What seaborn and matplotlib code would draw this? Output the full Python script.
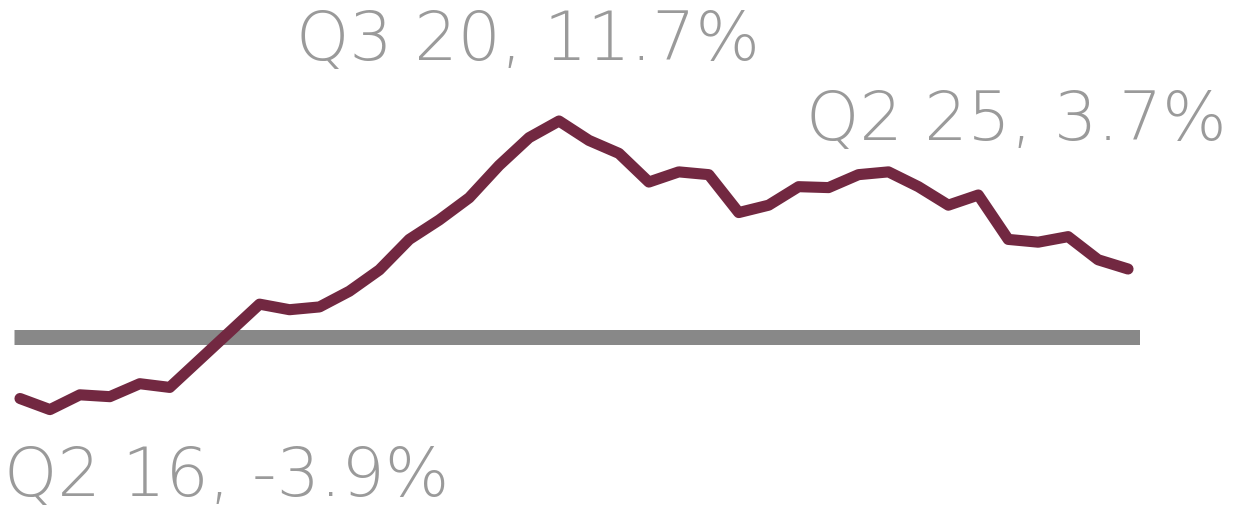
import matplotlib
matplotlib.use('Agg')
import matplotlib.pyplot as plt
import seaborn as sns
import pandas as pd

quarters = ['Q1 16', 'Q2 16', 'Q3 16', 'Q4 16',
            'Q1 17', 'Q2 17', 'Q3 17', 'Q4 17',
            'Q1 18', 'Q2 18', 'Q3 18', 'Q4 18',
            'Q1 19', 'Q2 19', 'Q3 19', 'Q4 19',
            'Q1 20', 'Q2 20', 'Q3 20', 'Q4 20',
            'Q1 21', 'Q2 21', 'Q3 21', 'Q4 21',
            'Q1 22', 'Q2 22', 'Q3 22', 'Q4 22',
            'Q1 23', 'Q2 23', 'Q3 23', 'Q4 23',
            'Q1 24', 'Q2 24', 'Q3 24', 'Q4 24',
            'Q1 25', 'Q2 25']
growth = [-3.3, -3.9, -3.1, -3.2,
          -2.5, -2.7, -1.2, 0.3,
          1.8, 1.5, 1.65, 2.5,
          3.65, 5.3, 6.35, 7.55,
          9.3, 10.8, 11.7, 10.65,
          9.95, 8.4, 8.95, 8.8,
          6.75, 7.15, 8.15, 8.1,
          8.8, 8.95, 8.15, 7.15,
          7.7, 5.3, 5.15, 5.45,
          4.2, 3.7]

labels = ['Q2 16, -3.9%', 'Q3 20, 11.7%', 'Q2 25, 3.7%']

df = pd.DataFrame({'idx': range(len(quarters)), 'q': quarters, 'v': growth})

sns.set_style('white')
plt.rcParams['font.family'] = ['DejaVu Sans']

fig = plt.figure(figsize=(12.58, 5.11), dpi=100)
ax = fig.add_axes([14 / 1258, 0, 1126 / 1258, 1])

ax.axhline(0, color='#888888', lw=10.8, zorder=1, solid_capstyle='butt')
sns.lineplot(data=df, x='idx', y='v', ax=ax, color='#722841', lw=8,
             zorder=2, solid_joinstyle='round', solid_capstyle='round')

ax.set_xlim(-0.2, 37.4)
ax.set_ylim(-9.38, 18.24)
ax.axis('off')

txt = dict(color='#9a9a9a', fontsize=49, fontweight='light')
fig.text(4 / 1258, 1 - 496 / 511, labels[0], ha='left', va='baseline', **txt)
fig.text(528 / 1258, 1 - 60 / 511, labels[1], ha='center', va='baseline', **txt)
fig.text(1016 / 1258, 1 - 140 / 511, labels[2], ha='center', va='baseline', **txt)

fig.savefig('out.png', dpi=100)
